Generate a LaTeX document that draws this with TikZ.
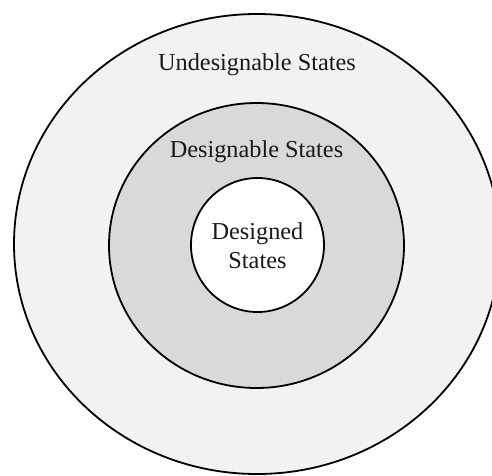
\documentclass[tikz,border=0pt]{standalone}
\usepackage{fontspec}
\setmainfont{Liberation Serif}
\usetikzlibrary{shapes.geometric}
\definecolor{outerfill}{HTML}{F2F2F2}
\definecolor{midfill}{HTML}{D9D9D9}
\tikzset{
  ring/.style={ellipse, draw=black, line width=1.8pt, inner sep=0pt},
  lbl/.style={font=\fontsize{24.3}{29}\selectfont, text=black!90, anchor=base, inner sep=0pt, align=center}
}
\begin{document}
\begin{tikzpicture}[x=1pt,y=1pt]
\useasboundingbox (0,0) rectangle (492,475);
\clip (0,0) rectangle (492,475);
\fill[white] (0,0) rectangle (492,475);
\node[ring, fill=outerfill, minimum width=486pt, minimum height=460pt] (outer) at (257,231) {};
\node[ring, fill=midfill, minimum width=295pt, minimum height=285pt] (middle) at (256.5,229.5) {};
\node[ring, fill=white, minimum width=133pt, minimum height=134pt] (inner) at (257.5,230) {};
\node[lbl] (undes) at (257,404) {Undesignable States};
\node[lbl] (des) at (256.5,318) {Designable States};
\node[lbl] (designed) at (257.5,236) {Designed};
\node[lbl] (states) at (257.5,207) {States};
\end{tikzpicture}
\end{document}
